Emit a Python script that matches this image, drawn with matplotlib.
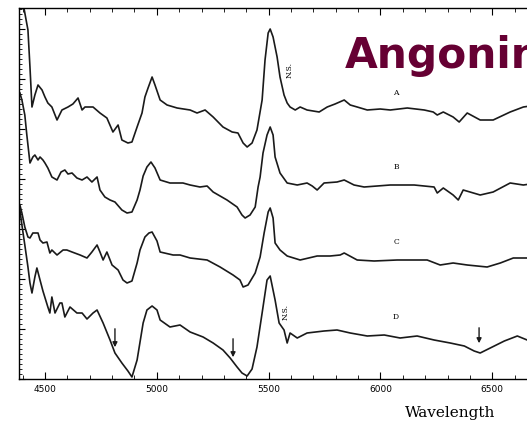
import matplotlib.pyplot as plt
from matplotlib.ticker import MultipleLocator

# Spectrum A (top)
wl_a = [4406, 4424, 4433, 4442, 4455, 4469, 4487, 4500, 4513, 4531, 4554, 4576, 4603, 4625,
        4648, 4666, 4679, 4715, 4746, 4777, 4804, 4827, 4844, 4871, 4889, 4912, 4934, 4947,
        4961, 4979, 4992, 5015, 5046, 5091, 5149, 5180, 5216, 5252, 5296, 5337, 5363, 5386,
        5404, 5426, 5448, 5471, 5484, 5498, 5507, 5520, 5538, 5551, 5569, 5583, 5596, 5619,
        5641, 5672, 5726, 5762, 5797, 5838, 5865, 5896, 5941, 5999, 6044, 6120, 6196, 6236,
        6254, 6281, 6325, 6352, 6388, 6446, 6504, 6580, 6639, 6670]
flux_a = [3.71, 3.49, 3.12, 2.72, 2.84, 2.94, 2.89, 2.82, 2.76, 2.72, 2.59, 2.69, 2.72, 2.75,
          2.81, 2.69, 2.72, 2.72, 2.66, 2.61, 2.47, 2.54, 2.39, 2.36, 2.37, 2.52, 2.66, 2.82,
          2.91, 3.02, 2.94, 2.79, 2.74, 2.71, 2.69, 2.66, 2.69, 2.62, 2.52, 2.47, 2.46, 2.36,
          2.32, 2.36, 2.49, 2.79, 3.19, 3.46, 3.50, 3.42, 3.22, 3.02, 2.84, 2.76, 2.72, 2.69,
          2.72, 2.69, 2.67, 2.72, 2.75, 2.79, 2.74, 2.72, 2.69, 2.70, 2.69, 2.71, 2.69, 2.67,
          2.64, 2.67, 2.62, 2.57, 2.66, 2.59, 2.59, 2.67, 2.72, 2.73]

# Spectrum B
wl_b = [4388, 4397, 4410, 4419, 4433, 4446, 4455, 4469, 4478, 4491, 4500, 4513, 4531, 4554,
        4572, 4589, 4603, 4621, 4643, 4666, 4688, 4710, 4733, 4746, 4768, 4791, 4813, 4844,
        4867, 4889, 4912, 4925, 4939, 4956, 4974, 4992, 5015, 5059, 5117, 5149, 5193, 5225,
        5252, 5314, 5359, 5381, 5395, 5417, 5440, 5453, 5462, 5475, 5493, 5507, 5520, 5529,
        5551, 5583, 5628, 5672, 5695, 5717, 5748, 5806, 5838, 5882, 5927, 6044, 6151, 6240,
        6254, 6281, 6325, 6348, 6370, 6446, 6504, 6580, 6639, 6670]
flux_b = [2.86, 2.79, 2.64, 2.44, 2.16, 2.22, 2.24, 2.19, 2.22, 2.19, 2.16, 2.11, 2.02, 1.99,
          2.07, 2.09, 2.05, 2.06, 2.01, 1.99, 2.02, 1.97, 2.02, 1.89, 1.82, 1.79, 1.77, 1.69,
          1.66, 1.67, 1.79, 1.89, 2.03, 2.12, 2.17, 2.11, 1.99, 1.96, 1.96, 1.94, 1.92, 1.93,
          1.87, 1.79, 1.72, 1.64, 1.61, 1.64, 1.72, 1.92, 2.02, 2.26, 2.44, 2.52, 2.44, 2.22,
          2.06, 1.96, 1.94, 1.96, 1.93, 1.89, 1.96, 1.97, 1.99, 1.94, 1.92, 1.94, 1.94, 1.92,
          1.86, 1.91, 1.84, 1.79, 1.89, 1.84, 1.87, 1.96, 1.94, 1.95]

# Spectrum C
wl_c = [4375, 4388, 4397, 4410, 4424, 4433, 4446, 4469, 4478, 4491, 4509, 4522, 4531, 4554,
        4581, 4598, 4621, 4657, 4688, 4710, 4733, 4746, 4760, 4777, 4800, 4827, 4849, 4867,
        4889, 4912, 4925, 4947, 4965, 4979, 5001, 5015, 5073, 5104, 5149, 5225, 5283, 5341,
        5372, 5386, 5408, 5440, 5462, 5480, 5498, 5507, 5520, 5529, 5551, 5583, 5641, 5717,
        5775, 5820, 5838, 5896, 5972, 6075, 6209, 6267, 6325, 6388, 6477, 6536, 6594, 6656]
flux_c = [1.79, 1.74, 1.66, 1.52, 1.42, 1.41, 1.46, 1.46, 1.39, 1.36, 1.37, 1.26, 1.29, 1.24,
          1.29, 1.29, 1.27, 1.24, 1.21, 1.27, 1.34, 1.27, 1.19, 1.27, 1.14, 1.09, 0.99, 0.96,
          0.98, 1.16, 1.29, 1.42, 1.46, 1.47, 1.38, 1.27, 1.24, 1.24, 1.21, 1.19, 1.12, 1.04,
          0.99, 0.92, 0.94, 1.06, 1.22, 1.46, 1.67, 1.71, 1.61, 1.36, 1.29, 1.23, 1.19, 1.23,
          1.23, 1.24, 1.26, 1.19, 1.18, 1.19, 1.19, 1.14, 1.16, 1.14, 1.12, 1.16, 1.21, 1.21]

# Spectrum D (bottom)
wl_d = [4379, 4388, 4397, 4410, 4424, 4433, 4442, 4455, 4464, 4478, 4491, 4513, 4522, 4531,
        4545, 4567, 4576, 4589, 4612, 4643, 4666, 4688, 4715, 4733, 4760, 4791, 4813, 4844,
        4871, 4889, 4912, 4939, 4956, 4979, 5001, 5015, 5059, 5104, 5149, 5207, 5252, 5296,
        5328, 5359, 5381, 5404, 5426, 5448, 5471, 5493, 5507, 5529, 5547, 5569, 5583, 5596,
        5628, 5672, 5748, 5806, 5865, 5941, 6017, 6088, 6164, 6240, 6312, 6375, 6419, 6446,
        6491, 6554, 6612, 6656]
flux_d = [1.74, 1.69, 1.54, 1.34, 1.12, 0.96, 0.86, 1.02, 1.11, 0.99, 0.88, 0.72, 0.66, 0.82,
          0.66, 0.76, 0.76, 0.62, 0.72, 0.66, 0.66, 0.60, 0.66, 0.69, 0.56, 0.39, 0.26, 0.16,
          0.08, 0.02, 0.19, 0.56, 0.69, 0.73, 0.69, 0.59, 0.52, 0.54, 0.47, 0.42, 0.36, 0.29,
          0.21, 0.12, 0.06, 0.03, 0.10, 0.32, 0.66, 0.99, 1.03, 0.79, 0.56, 0.49, 0.36, 0.46,
          0.41, 0.46, 0.48, 0.49, 0.46, 0.43, 0.44, 0.41, 0.43, 0.39, 0.36, 0.33, 0.28, 0.26,
          0.31, 0.38, 0.43, 0.39]

labels = ['A', 'B', 'C', 'D']
label_wl = [6070, 6070, 6070, 6070]
label_flux = [2.86, 2.12, 1.37, 0.62]

ns_wl = [5596, 5574]
ns_flux = [3.09, 0.67]

arrow_wl = [4813, 5341, 6441]
arrow_top = [0.53, 0.43, 0.54]
arrow_tip = [0.29, 0.19, 0.33]

fig = plt.figure(figsize=(5.27, 4.26), dpi=100)
ax = fig.add_axes([19 / 527, 47 / 426, 518 / 527, 371 / 426])

for wl, fl in [(wl_a, flux_a), (wl_b, flux_b), (wl_c, flux_c), (wl_d, flux_d)]:
    ax.plot(wl, fl, color='#1a1a1a', lw=1.2)

for lab, x, y in zip(labels, label_wl, label_flux):
    ax.text(x, y, lab, fontsize=5.5, family='DejaVu Serif', ha='center', va='center')

for x, y in zip(ns_wl, ns_flux):
    ax.text(x, y, 'N.S.', fontsize=5.5, family='DejaVu Serif', rotation=90,
            ha='center', va='center')

for x, y0, y1 in zip(arrow_wl, arrow_top, arrow_tip):
    ax.annotate('', xy=(x, y1), xytext=(x, y0),
                arrowprops=dict(arrowstyle='-|>', color='#1a1a1a', lw=1.0,
                                mutation_scale=7))

ax.set_xlim(4384, 6700)
ax.set_ylim(0, 3.71)

ax.xaxis.set_major_locator(MultipleLocator(500))
ax.xaxis.set_minor_locator(MultipleLocator(100))
ax.yaxis.set_major_locator(MultipleLocator(0.5))
ax.yaxis.set_minor_locator(MultipleLocator(0.05))
ax.tick_params(axis='x', which='both', direction='in', top=True, labelsize=6.5, pad=4)
ax.tick_params(axis='x', which='major', length=5)
ax.tick_params(axis='x', which='minor', length=3)
ax.tick_params(axis='y', which='both', direction='in', labelleft=False, length=2.5)
ax.tick_params(axis='y', which='major', length=4)
for s in ax.spines.values():
    s.set_linewidth(1.0)

fig.text(450 / 527, 1 - 413 / 426, 'Wavelength', family='DejaVu Serif', fontsize=11,
         ha='center', va='center')

fig.text(345 / 527, 1 - 68 / 426, 'Angonin', color='#660033', fontsize=30.5,
         fontweight='bold', ha='left', va='baseline')

plt.savefig('out.png', dpi=100)
